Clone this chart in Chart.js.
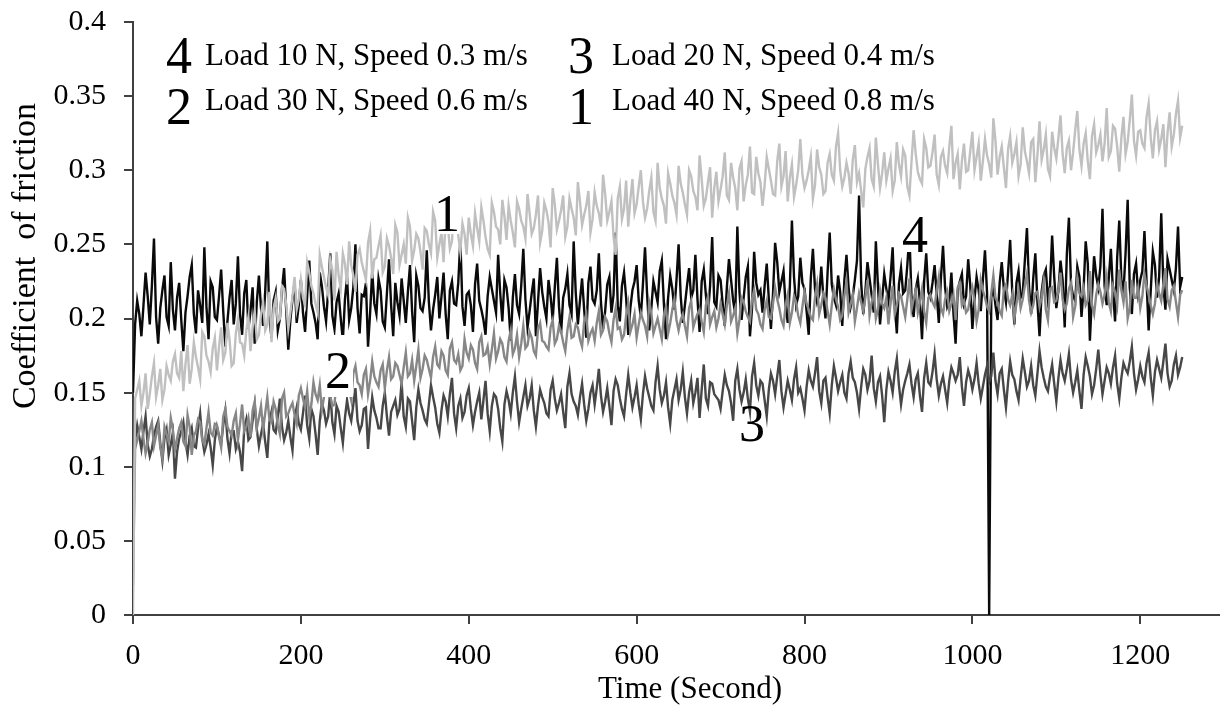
<!DOCTYPE html>
<html>
<head>
<meta charset="utf-8">
<script src="https://cdn.jsdelivr.net/npm/chart.js@4.4.1/dist/chart.umd.min.js"></script>
<style>
  html, body { margin: 0; padding: 0; background: #fff; }
  #wrap { width: 1220px; height: 707px; position: relative; }
</style>
</head>
<body>
<div id="wrap"><canvas id="frictionChart" width="1220" height="707"></canvas></div>
<script>
// friction readings: main samples every 5 s (0..1250 s),
// the "Mid" arrays are the readings taken half way between them
const sampleStep = 5;

const xTickValues = [0, 200, 400, 600, 800, 1000, 1200];
const yTickValues = [0, 0.05, 0.1, 0.15, 0.2, 0.25, 0.3, 0.35, 0.4];

const seriesNames = ["1", "2", "3", "4"];
const legendNumbers = ["4", "3", "2", "1"];
const legendTexts = [
    "Load 10 N, Speed 0.3 m/s",
    "Load 20 N, Speed 0.4 m/s",
    "Load 30 N, Speed 0.6 m/s",
    "Load 40 N, Speed 0.8 m/s"
];

// curve 1 : Load 40 N, Speed 0.8 m/s
const curve1 = [
    0.000, 0.152, 0.141, 0.163, 0.149, 0.170, 0.155, 0.145, 0.168, 0.158,
    0.176, 0.160, 0.151, 0.182, 0.166, 0.174, 0.159, 0.188, 0.171, 0.180,
    0.165, 0.194, 0.177, 0.186, 0.170, 0.199, 0.183, 0.192, 0.178, 0.205,
    0.189, 0.211, 0.196, 0.184, 0.214, 0.200, 0.220, 0.193, 0.215, 0.206,
    0.226, 0.209, 0.231, 0.217, 0.204, 0.235, 0.221, 0.240, 0.212, 0.229,
    0.244, 0.223, 0.236, 0.218, 0.247, 0.232, 0.251, 0.227, 0.241, 0.256,
    0.235, 0.249, 0.230, 0.258, 0.243, 0.237, 0.262, 0.246, 0.254, 0.233,
    0.259, 0.244, 0.266, 0.250, 0.238, 0.263, 0.252, 0.270, 0.245, 0.257,
    0.268, 0.249, 0.261, 0.275, 0.255, 0.243, 0.272, 0.260, 0.280, 0.253,
    0.266, 0.248, 0.274, 0.262, 0.284, 0.257, 0.270, 0.251, 0.278, 0.265,
    0.288, 0.260, 0.273, 0.255, 0.281, 0.268, 0.292, 0.263, 0.276, 0.258,
    0.285, 0.271, 0.297, 0.266, 0.279, 0.243, 0.289, 0.274, 0.262, 0.294,
    0.277, 0.300, 0.268, 0.286, 0.272, 0.305, 0.281, 0.264, 0.291, 0.278,
    0.303, 0.285, 0.270, 0.296, 0.282, 0.310, 0.276, 0.292, 0.268, 0.299,
    0.287, 0.312, 0.280, 0.295, 0.273, 0.306, 0.290, 0.316, 0.284, 0.298,
    0.276, 0.309, 0.293, 0.283, 0.318, 0.296, 0.279, 0.304, 0.290, 0.321,
    0.288, 0.300, 0.281, 0.314, 0.297, 0.286, 0.311, 0.293, 0.325, 0.289,
    0.305, 0.284, 0.317, 0.298, 0.275, 0.309, 0.294, 0.322, 0.288, 0.312,
    0.301, 0.286, 0.319, 0.296, 0.310, 0.283, 0.327, 0.299, 0.291, 0.315,
    0.303, 0.324, 0.290, 0.313, 0.298, 0.330, 0.305, 0.287, 0.318, 0.300,
    0.326, 0.309, 0.293, 0.321, 0.304, 0.335, 0.297, 0.316, 0.288, 0.323,
    0.311, 0.296, 0.329, 0.306, 0.319, 0.292, 0.333, 0.314, 0.301, 0.326,
    0.308, 0.337, 0.298, 0.320, 0.312, 0.340, 0.303, 0.325, 0.294, 0.331,
    0.317, 0.306, 0.342, 0.313, 0.328, 0.299, 0.336, 0.319, 0.351, 0.310,
    0.327, 0.315, 0.345, 0.308, 0.333, 0.321, 0.302, 0.339, 0.324, 0.347,
    0.330
];
const curve1Mid = [
    0.146, 0.158, 0.150, 0.139, 0.161, 0.147, 0.166, 0.152, 0.162, 0.171,
    0.163, 0.178, 0.169, 0.156, 0.184, 0.167, 0.191, 0.175, 0.164, 0.187,
    0.181, 0.172, 0.197, 0.168, 0.190, 0.184, 0.175, 0.201, 0.194, 0.186,
    0.203, 0.192, 0.218, 0.207, 0.198, 0.222, 0.210, 0.204, 0.228, 0.213,
    0.214, 0.238, 0.222, 0.210, 0.243, 0.228, 0.216, 0.233, 0.245, 0.220,
    0.237, 0.252, 0.229, 0.243, 0.238, 0.226, 0.259, 0.240, 0.249, 0.231,
    0.254, 0.241, 0.263, 0.236, 0.250, 0.268, 0.239, 0.257, 0.245, 0.261,
    0.250, 0.272, 0.241, 0.258, 0.267, 0.247, 0.275, 0.256, 0.264, 0.243,
    0.257, 0.271, 0.252, 0.266, 0.247, 0.278, 0.262, 0.250, 0.269, 0.276,
    0.258, 0.279, 0.266, 0.254, 0.271, 0.261, 0.283, 0.259, 0.273, 0.248,
    0.277, 0.266, 0.283, 0.262, 0.274, 0.256, 0.279, 0.270, 0.286, 0.267,
    0.276, 0.262, 0.284, 0.272, 0.255, 0.281, 0.267, 0.293, 0.280, 0.271,
    0.289, 0.279, 0.274, 0.295, 0.266, 0.288, 0.276, 0.298, 0.283, 0.270,
    0.291, 0.277, 0.300, 0.286, 0.273, 0.294, 0.281, 0.302, 0.288, 0.279,
    0.296, 0.283, 0.305, 0.288, 0.301, 0.279, 0.297, 0.285, 0.309, 0.292,
    0.290, 0.301, 0.284, 0.306, 0.289, 0.313, 0.295, 0.282, 0.300, 0.297,
    0.293, 0.309, 0.290, 0.302, 0.284, 0.305, 0.297, 0.316, 0.300, 0.295,
    0.298, 0.307, 0.292, 0.286, 0.301, 0.315, 0.289, 0.304, 0.298, 0.293,
    0.308, 0.293, 0.304, 0.314, 0.289, 0.306, 0.311, 0.294, 0.321, 0.302,
    0.312, 0.297, 0.309, 0.303, 0.316, 0.294, 0.311, 0.306, 0.299, 0.313,
    0.300, 0.318, 0.306, 0.310, 0.295, 0.320, 0.309, 0.302, 0.314, 0.305,
    0.319, 0.304, 0.313, 0.298, 0.321, 0.310, 0.307, 0.324, 0.296, 0.315,
    0.322, 0.311, 0.315, 0.300, 0.327, 0.314, 0.318, 0.306, 0.323, 0.312,
    0.324, 0.318, 0.309, 0.330, 0.316, 0.322, 0.311, 0.334, 0.320, 0.326,
    0.318, 0.336, 0.322, 0.327, 0.314, 0.331, 0.325, 0.316, 0.338, 0.322
];

// curve 2 : Load 30 N, Speed 0.6 m/s
const curve2 = [
    0.020, 0.118, 0.131, 0.109, 0.125, 0.114, 0.128, 0.106, 0.122, 0.133,
    0.111, 0.126, 0.117, 0.135, 0.108, 0.124, 0.130, 0.115, 0.137, 0.121,
    0.128, 0.113, 0.139, 0.124, 0.131, 0.118, 0.142, 0.127, 0.120, 0.144,
    0.133, 0.125, 0.147, 0.130, 0.139, 0.122, 0.150, 0.136, 0.143, 0.129,
    0.153, 0.140, 0.134, 0.157, 0.145, 0.138, 0.161, 0.148, 0.142, 0.164,
    0.151, 0.158, 0.145, 0.168, 0.155, 0.162, 0.149, 0.171, 0.157, 0.165,
    0.153, 0.174, 0.161, 0.168, 0.156, 0.177, 0.163, 0.158, 0.179, 0.166,
    0.172, 0.160, 0.181, 0.167, 0.175, 0.162, 0.184, 0.170, 0.165, 0.186,
    0.173, 0.179, 0.166, 0.188, 0.176, 0.169, 0.190, 0.178, 0.183, 0.171,
    0.192, 0.180, 0.174, 0.195, 0.182, 0.187, 0.175, 0.197, 0.184, 0.179,
    0.199, 0.186, 0.191, 0.178, 0.201, 0.188, 0.194, 0.181, 0.203, 0.190,
    0.185, 0.205, 0.192, 0.198, 0.184, 0.207, 0.194, 0.189, 0.210, 0.196,
    0.187, 0.204, 0.195, 0.211, 0.190, 0.200, 0.186, 0.208, 0.197, 0.213,
    0.192, 0.203, 0.188, 0.212, 0.199, 0.206, 0.191, 0.215, 0.201, 0.194,
    0.210, 0.196, 0.217, 0.202, 0.190, 0.214, 0.205, 0.198, 0.219, 0.203,
    0.193, 0.212, 0.200, 0.221, 0.207, 0.195, 0.216, 0.204, 0.211, 0.197,
    0.218, 0.206, 0.199, 0.223, 0.209, 0.214, 0.196, 0.220, 0.208, 0.202,
    0.225, 0.210, 0.198, 0.217, 0.205, 0.226, 0.211, 0.200, 0.219, 0.207,
    0.196, 0.222, 0.209, 0.215, 0.201, 0.227, 0.213, 0.204, 0.220, 0.197,
    0.216, 0.208, 0.228, 0.203, 0.218, 0.210, 0.199, 0.224, 0.212, 0.206,
    0.221, 0.198, 0.226, 0.214, 0.205, 0.229, 0.211, 0.202, 0.223, 0.209,
    0.200, 0.219, 0.213, 0.230, 0.204, 0.217, 0.208, 0.225, 0.199, 0.221,
    0.212, 0.231, 0.206, 0.220, 0.201, 0.227, 0.215, 0.209, 0.232, 0.203,
    0.223, 0.210, 0.228, 0.205, 0.218, 0.233, 0.211, 0.200, 0.226, 0.214,
    0.207, 0.230, 0.216, 0.203, 0.224, 0.212, 0.234, 0.208, 0.222, 0.201,
    0.219
];
const curve2Mid = [
    0.112, 0.124, 0.119, 0.116, 0.130, 0.121, 0.113, 0.127, 0.117, 0.125,
    0.119, 0.130, 0.114, 0.127, 0.121, 0.132, 0.118, 0.126, 0.123, 0.129,
    0.120, 0.134, 0.127, 0.121, 0.136, 0.129, 0.124, 0.133, 0.138, 0.126,
    0.141, 0.136, 0.132, 0.144, 0.128, 0.146, 0.134, 0.140, 0.135, 0.148,
    0.146, 0.151, 0.142, 0.149, 0.155, 0.147, 0.153, 0.141, 0.158, 0.152,
    0.160, 0.152, 0.163, 0.157, 0.149, 0.166, 0.158, 0.161, 0.154, 0.169,
    0.165, 0.159, 0.170, 0.162, 0.167, 0.161, 0.172, 0.168, 0.160, 0.175,
    0.166, 0.174, 0.169, 0.178, 0.165, 0.180, 0.172, 0.176, 0.168, 0.177,
    0.182, 0.170, 0.184, 0.175, 0.181, 0.179, 0.173, 0.186, 0.174, 0.185,
    0.176, 0.189, 0.183, 0.180, 0.191, 0.178, 0.193, 0.185, 0.181, 0.194,
    0.183, 0.195, 0.184, 0.192, 0.187, 0.196, 0.186, 0.198, 0.185, 0.193,
    0.197, 0.189, 0.201, 0.190, 0.199, 0.193, 0.186, 0.202, 0.191, 0.203,
    0.196, 0.199, 0.188, 0.204, 0.195, 0.193, 0.202, 0.190, 0.206, 0.199,
    0.199, 0.195, 0.207, 0.194, 0.203, 0.198, 0.209, 0.196, 0.205, 0.200,
    0.203, 0.209, 0.198, 0.207, 0.199, 0.211, 0.201, 0.213, 0.206, 0.196,
    0.206, 0.201, 0.210, 0.213, 0.199, 0.209, 0.197, 0.215, 0.202, 0.208,
    0.210, 0.201, 0.214, 0.203, 0.217, 0.205, 0.209, 0.213, 0.199, 0.215,
    0.204, 0.216, 0.207, 0.211, 0.214, 0.202, 0.218, 0.206, 0.210, 0.214,
    0.210, 0.203, 0.217, 0.208, 0.213, 0.206, 0.219, 0.211, 0.205, 0.214,
    0.211, 0.219, 0.207, 0.213, 0.205, 0.216, 0.221, 0.209, 0.204, 0.215,
    0.212, 0.206, 0.219, 0.208, 0.217, 0.214, 0.205, 0.220, 0.213, 0.216,
    0.210, 0.207, 0.222, 0.212, 0.209, 0.218, 0.214, 0.206, 0.220, 0.211,
    0.219, 0.213, 0.210, 0.224, 0.208, 0.217, 0.221, 0.212, 0.209, 0.216,
    0.218, 0.216, 0.211, 0.222, 0.209, 0.219, 0.225, 0.207, 0.214, 0.221,
    0.215, 0.222, 0.209, 0.210, 0.217, 0.223, 0.213, 0.219, 0.211, 0.216
];

// curve 3 : Load 20 N, Speed 0.4 m/s
const curve3 = [
    0.100, 0.128, 0.112, 0.134, 0.107, 0.121, 0.131, 0.104, 0.125, 0.115,
    0.092, 0.119, 0.130, 0.108, 0.126, 0.113, 0.136, 0.110, 0.122, 0.101,
    0.127, 0.115, 0.138, 0.109, 0.124, 0.117, 0.097, 0.132, 0.120, 0.142,
    0.114, 0.129, 0.106, 0.137, 0.123, 0.146, 0.118, 0.131, 0.111, 0.140,
    0.125, 0.148, 0.119, 0.134, 0.108, 0.143, 0.129, 0.151, 0.122, 0.137,
    0.116, 0.145, 0.131, 0.153, 0.124, 0.139, 0.112, 0.147, 0.133, 0.126,
    0.150, 0.121, 0.141, 0.135, 0.157, 0.127, 0.144, 0.118, 0.152, 0.138,
    0.129, 0.155, 0.140, 0.123, 0.148, 0.134, 0.160, 0.126, 0.146, 0.137,
    0.153, 0.128, 0.144, 0.132, 0.158, 0.124, 0.149, 0.139, 0.117, 0.151,
    0.136, 0.161, 0.130, 0.147, 0.141, 0.155, 0.127, 0.152, 0.143, 0.134,
    0.158, 0.138, 0.149, 0.126, 0.163, 0.144, 0.135, 0.156, 0.131, 0.150,
    0.142, 0.166, 0.137, 0.153, 0.128, 0.159, 0.146, 0.134, 0.162, 0.140,
    0.155, 0.132, 0.161, 0.147, 0.138, 0.168, 0.143, 0.157, 0.129, 0.152,
    0.145, 0.164, 0.136, 0.158, 0.150, 0.133, 0.169, 0.141, 0.156, 0.147,
    0.139, 0.162, 0.151, 0.131, 0.166, 0.144, 0.159, 0.137, 0.170, 0.148,
    0.156, 0.134, 0.163, 0.149, 0.172, 0.140, 0.158, 0.145, 0.167, 0.153,
    0.138, 0.165, 0.154, 0.174, 0.143, 0.160, 0.136, 0.168, 0.151, 0.162,
    0.146, 0.171, 0.157, 0.139, 0.166, 0.152, 0.175, 0.144, 0.161, 0.130,
    0.164, 0.150, 0.173, 0.142, 0.158, 0.169, 0.147, 0.163, 0.137, 0.170,
    0.155, 0.176, 0.148, 0.161, 0.143, 0.167, 0.158, 0.174, 0.141, 0.165,
    0.152, 0.170, 0.146, 0.162, 0.157, 0.177, 0.149, 0.166, 0.140, 0.171,
    0.159, 0.145, 0.173, 0.154, 0.168, 0.148, 0.178, 0.160, 0.151, 0.169,
    0.144, 0.172, 0.158, 0.176, 0.150, 0.165, 0.139, 0.174, 0.161, 0.155,
    0.179, 0.149, 0.167, 0.156, 0.175, 0.146, 0.170, 0.163, 0.181, 0.152,
    0.168, 0.157, 0.177, 0.148, 0.172, 0.160, 0.183, 0.154, 0.169, 0.162,
    0.174
];
const curve3Mid = [
    0.118, 0.120, 0.124, 0.115, 0.112, 0.127, 0.116, 0.119, 0.108, 0.123,
    0.110, 0.124, 0.117, 0.121, 0.114, 0.126, 0.119, 0.115, 0.113, 0.118,
    0.121, 0.128, 0.119, 0.124, 0.112, 0.110, 0.126, 0.118, 0.131, 0.125,
    0.122, 0.117, 0.130, 0.125, 0.134, 0.127, 0.123, 0.120, 0.133, 0.129,
    0.136, 0.128, 0.139, 0.122, 0.131, 0.138, 0.134, 0.130, 0.141, 0.126,
    0.133, 0.136, 0.142, 0.131, 0.128, 0.140, 0.132, 0.138, 0.126, 0.141,
    0.134, 0.137, 0.145, 0.139, 0.134, 0.146, 0.131, 0.140, 0.143, 0.132,
    0.142, 0.147, 0.129, 0.138, 0.144, 0.149, 0.136, 0.141, 0.133, 0.148,
    0.139, 0.137, 0.150, 0.145, 0.136, 0.141, 0.147, 0.126, 0.142, 0.145,
    0.150, 0.144, 0.139, 0.155, 0.146, 0.138, 0.141, 0.147, 0.136, 0.152,
    0.146, 0.143, 0.137, 0.154, 0.149, 0.141, 0.147, 0.142, 0.139, 0.155,
    0.153, 0.148, 0.144, 0.141, 0.151, 0.155, 0.139, 0.149, 0.150, 0.147,
    0.142, 0.149, 0.153, 0.141, 0.157, 0.152, 0.148, 0.140, 0.145, 0.159,
    0.152, 0.147, 0.150, 0.143, 0.160, 0.152, 0.146, 0.157, 0.149, 0.145,
    0.151, 0.155, 0.143, 0.158, 0.152, 0.150, 0.146, 0.161, 0.155, 0.158,
    0.145, 0.152, 0.158, 0.161, 0.151, 0.149, 0.152, 0.159, 0.150, 0.146,
    0.154, 0.158, 0.163, 0.151, 0.158, 0.147, 0.155, 0.160, 0.157, 0.150,
    0.163, 0.160, 0.150, 0.154, 0.162, 0.158, 0.153, 0.157, 0.148, 0.152,
    0.158, 0.164, 0.155, 0.152, 0.163, 0.156, 0.159, 0.148, 0.160, 0.157,
    0.164, 0.159, 0.156, 0.152, 0.158, 0.163, 0.162, 0.154, 0.157, 0.160,
    0.159, 0.156, 0.154, 0.168, 0.161, 0.158, 0.163, 0.152, 0.157, 0.162,
    0.151, 0.160, 0.164, 0.158, 0.155, 0.163, 0.167, 0.154, 0.161, 0.156,
    0.160, 0.163, 0.166, 0.159, 0.157, 0.151, 0.162, 0.168, 0.149, 0.166,
    0.162, 0.158, 0.163, 0.167, 0.156, 0.160, 0.166, 0.171, 0.163, 0.159,
    0.161, 0.170, 0.160, 0.164, 0.166, 0.171, 0.163, 0.158, 0.175, 0.167
];

// curve 4 : Load 10 N, Speed 0.3 m/s (drops to zero once near 1020 s)
const curve4 = [
    0.150, 0.212, 0.188, 0.231, 0.196, 0.254, 0.183, 0.219, 0.201, 0.238,
    0.192, 0.224, 0.178, 0.215, 0.236, 0.190, 0.209, 0.248, 0.186, 0.221,
    0.199, 0.233, 0.181, 0.214, 0.196, 0.242, 0.189, 0.226, 0.205, 0.183,
    0.229, 0.195, 0.252, 0.187, 0.218, 0.200, 0.234, 0.179, 0.213, 0.197,
    0.226, 0.191, 0.239, 0.204, 0.186, 0.222, 0.198, 0.244, 0.193, 0.217,
    0.185, 0.228, 0.207, 0.250, 0.190, 0.215, 0.181, 0.232, 0.203, 0.219,
    0.194, 0.240, 0.188, 0.211, 0.227, 0.197, 0.236, 0.184, 0.222, 0.205,
    0.246, 0.192, 0.216, 0.200, 0.231, 0.186, 0.225, 0.209, 0.253, 0.195,
    0.218, 0.191, 0.237, 0.206, 0.189, 0.228, 0.212, 0.243, 0.198, 0.221,
    0.185, 0.230, 0.203, 0.247, 0.194, 0.217, 0.188, 0.234, 0.208, 0.226,
    0.199, 0.241, 0.190, 0.220, 0.209, 0.252, 0.196, 0.227, 0.187, 0.235,
    0.210, 0.244, 0.193, 0.223, 0.204, 0.258, 0.198, 0.231, 0.189, 0.219,
    0.236, 0.201, 0.248, 0.192, 0.225, 0.211, 0.239, 0.186, 0.229, 0.206,
    0.250, 0.197, 0.222, 0.214, 0.243, 0.191, 0.233, 0.203, 0.255, 0.208,
    0.226, 0.195, 0.240, 0.212, 0.262, 0.199, 0.228, 0.188, 0.245, 0.216,
    0.204, 0.237, 0.193, 0.251, 0.218, 0.232, 0.197, 0.266, 0.209, 0.241,
    0.220, 0.189, 0.247, 0.211, 0.235, 0.200, 0.258, 0.214, 0.229, 0.195,
    0.243, 0.208, 0.226, 0.283, 0.203, 0.238, 0.216, 0.252, 0.196, 0.230,
    0.212, 0.248, 0.190, 0.234, 0.219, 0.257, 0.201, 0.227, 0.186, 0.244,
    0.214, 0.236, 0.197, 0.249, 0.208, 0.231, 0.183, 0.225, 0.210, 0.240,
    0.193, 0.228, 0.205, 0.246, 0.000, 0.221, 0.199, 0.238, 0.211, 0.253,
    0.196, 0.232, 0.217, 0.261, 0.203, 0.244, 0.188, 0.229, 0.213, 0.256,
    0.207, 0.239, 0.194, 0.268, 0.215, 0.235, 0.201, 0.252, 0.185, 0.242,
    0.221, 0.274, 0.209, 0.247, 0.198, 0.266, 0.218, 0.280, 0.203, 0.237,
    0.226, 0.259, 0.192, 0.245, 0.214, 0.271, 0.206, 0.233, 0.219, 0.262,
    0.228
];
const curve4Mid = [
    0.196, 0.203, 0.209, 0.215, 0.222, 0.201, 0.207, 0.229, 0.195, 0.206,
    0.214, 0.199, 0.204, 0.228, 0.203, 0.219, 0.197, 0.208, 0.225, 0.201,
    0.215, 0.205, 0.198, 0.226, 0.210, 0.203, 0.217, 0.193, 0.221, 0.211,
    0.207, 0.218, 0.201, 0.212, 0.192, 0.220, 0.206, 0.199, 0.224, 0.209,
    0.204, 0.215, 0.210, 0.197, 0.231, 0.208, 0.219, 0.202, 0.211, 0.200,
    0.213, 0.199, 0.221, 0.207, 0.216, 0.224, 0.204, 0.210, 0.227, 0.198,
    0.217, 0.209, 0.224, 0.202, 0.212, 0.218, 0.205, 0.229, 0.207, 0.214,
    0.211, 0.206, 0.228, 0.215, 0.203, 0.219, 0.210, 0.224, 0.208, 0.216,
    0.209, 0.223, 0.212, 0.199, 0.215, 0.220, 0.204, 0.217, 0.226, 0.207,
    0.214, 0.209, 0.222, 0.213, 0.205, 0.227, 0.211, 0.218, 0.200, 0.215,
    0.221, 0.208, 0.214, 0.230, 0.203, 0.217, 0.212, 0.206, 0.224, 0.213,
    0.219, 0.211, 0.205, 0.228, 0.216, 0.209, 0.222, 0.214, 0.207, 0.225,
    0.212, 0.223, 0.216, 0.207, 0.218, 0.232, 0.210, 0.214, 0.220, 0.226,
    0.215, 0.209, 0.234, 0.219, 0.213, 0.225, 0.216, 0.222, 0.211, 0.229,
    0.210, 0.221, 0.226, 0.203, 0.218, 0.214, 0.235, 0.207, 0.224, 0.219,
    0.222, 0.213, 0.217, 0.238, 0.225, 0.209, 0.221, 0.228, 0.215, 0.224,
    0.205, 0.227, 0.220, 0.216, 0.214, 0.231, 0.223, 0.209, 0.218, 0.226,
    0.221, 0.215, 0.239, 0.224, 0.218, 0.227, 0.204, 0.222, 0.213, 0.220,
    0.228, 0.209, 0.223, 0.217, 0.236, 0.214, 0.220, 0.211, 0.225, 0.218,
    0.224, 0.216, 0.227, 0.221, 0.212, 0.203, 0.219, 0.230, 0.215, 0.222,
    0.213, 0.219, 0.226, 0.217, 0.214, 0.209, 0.224, 0.220, 0.231, 0.218,
    0.224, 0.214, 0.239, 0.221, 0.227, 0.211, 0.218, 0.233, 0.222, 0.228,
    0.219, 0.226, 0.243, 0.223, 0.212, 0.228, 0.220, 0.237, 0.216, 0.229,
    0.235, 0.222, 0.227, 0.218, 0.241, 0.226, 0.244, 0.221, 0.230, 0.217,
    0.232, 0.225, 0.219, 0.236, 0.228, 0.222, 0.240, 0.226, 0.234, 0.221
];

const seriesColors = ["#c0c0c0", "#878787", "#474747", "#0a0a0a"];

// merge the main readings and the half-step readings into one time ordered list
function toPoints(values, mids) {
    const pts = [];
    values.forEach((v, i) => {
        pts.push({ x: i * sampleStep, y: v });
        if (i < mids.length) pts.push({ x: i * sampleStep + sampleStep / 2, y: mids[i] });
    });
    return pts;
}

const serif = "'Liberation Serif', 'Times New Roman', serif";
Chart.defaults.font.family = serif;
Chart.defaults.color = "#000";

// legend block and curve numbers are drawn straight on the canvas
const annotationPlugin = {
    id: "annotations",
    afterDatasetsDraw(chart) {
        const ctx = chart.ctx;
        ctx.save();

        // white boxes behind the in-plot numbers
        ctx.fillStyle = "#fff";
        ctx.fillRect(437, 189, 22, 45);
        ctx.fillRect(322, 335, 31, 62);
        ctx.fillRect(901, 214, 30, 38);

        ctx.fillStyle = "#000";
        ctx.textBaseline = "alphabetic";
        ctx.textAlign = "center";
        ctx.font = "52px " + serif;
        ctx.fillText(seriesNames[0], 447, 231);
        ctx.fillText(seriesNames[1], 338, 388);
        ctx.fillText(seriesNames[2], 752, 441);
        ctx.fillText(seriesNames[3], 915, 252);

        // legend
        const cols = [166, 568];
        const textCols = [205, 612];
        const numBase = [73, 124];
        const textBase = [65, 110];
        for (let i = 0; i < legendNumbers.length; i++) {
            const c = i % 2, r = Math.floor(i / 2);
            ctx.textAlign = "left";
            ctx.font = "52px " + serif;
            ctx.fillText(legendNumbers[i], cols[c], numBase[r]);
            ctx.font = "31px " + serif;
            ctx.fillText(legendTexts[i], textCols[c], textBase[r]);
        }

        // axis titles
        ctx.textAlign = "center";
        ctx.font = "31px " + serif;
        ctx.fillText("Time (Second)", 690, 698);
        ctx.save();
        ctx.translate(35, 256);
        ctx.rotate(-Math.PI / 2);
        ctx.font = "34px " + serif;
        ctx.fillText("Coefficient  of friction", 0, 0);
        ctx.restore();

        ctx.restore();
    }
};

const drawOrder = [0, 1, 2, 3];
const ctx = document.getElementById("frictionChart").getContext("2d");
const curves = [curve1, curve2, curve3, curve4];
const curveMids = [curve1Mid, curve2Mid, curve3Mid, curve4Mid];

window.frictionChart = new Chart(ctx, {
    type: "line",
    data: {
        datasets: curves.map((c, i) => ({
            label: seriesNames[i],
            data: toPoints(c, curveMids[i]),
            borderColor: seriesColors[i],
            borderWidth: 2.4,
            pointRadius: 0,
            tension: 0,
            fill: false,
            order: drawOrder[i]
        }))
    },
    options: {
        responsive: false,
        animation: false,
        layout: { padding: { top: 22, right: 0, bottom: 0, left: 0 } },
        plugins: {
            legend: { display: false },
            tooltip: { enabled: false }
        },
        scales: {
            x: {
                type: "linear",
                min: 0,
                max: 1295,
                afterBuildTicks: s => { s.ticks = xTickValues.map(v => ({ value: v })); },
                afterFit: s => { s.height = 92; s.paddingLeft = 0; s.paddingRight = 0; },
                ticks: {
                    font: { size: 30 },
                    padding: 14,
                    maxRotation: 0,
                    autoSkip: false,
                    callback: v => String(v)
                },
                grid: { drawOnChartArea: false, drawTicks: true, tickLength: 9, color: "#404040", lineWidth: 2 },
                border: { color: "#404040", width: 2 }
            },
            y: {
                min: 0,
                max: 0.4,
                afterBuildTicks: s => { s.ticks = yTickValues.map(v => ({ value: v })); },
                afterFit: s => { s.width = 133; s.paddingTop = 0; s.paddingBottom = 0; },
                ticks: {
                    font: { size: 30 },
                    padding: 18,
                    callback: v => String(+v.toFixed(2))
                },
                grid: { drawOnChartArea: false, drawTicks: true, tickLength: 9, color: "#404040", lineWidth: 2 },
                border: { color: "#404040", width: 2 }
            }
        }
    },
    plugins: [annotationPlugin]
});
</script>
</body>
</html>
